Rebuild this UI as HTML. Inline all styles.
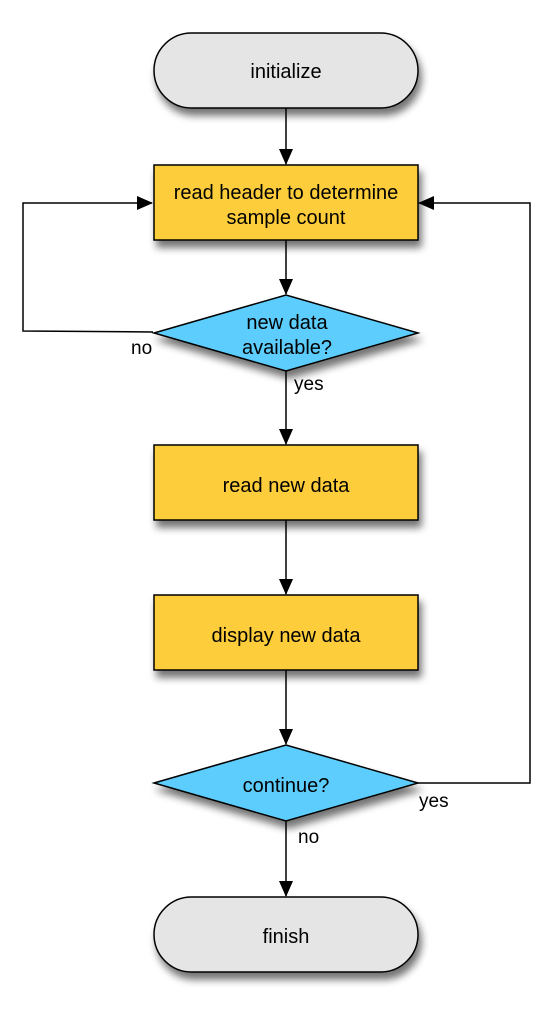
<!DOCTYPE html>
<html><head><style>body{margin:0;background:#fff}</style></head><body>
<svg width="553" height="1021" viewBox="0 0 553 1021" xmlns="http://www.w3.org/2000/svg" font-family="Liberation Sans, sans-serif" font-size="20">
<defs>
<filter id="sh" x="-20%" y="-30%" width="150%" height="180%"><feGaussianBlur in="SourceAlpha" stdDeviation="4"/><feOffset dx="3" dy="7"/><feComponentTransfer><feFuncA type="linear" slope="0.55"/></feComponentTransfer><feMerge><feMergeNode/><feMergeNode in="SourceGraphic"/></feMerge></filter>
<marker id="a" markerWidth="16" markerHeight="14" refX="15" refY="7" orient="auto" markerUnits="userSpaceOnUse"><path d="M0,0 L16,7 L0,14 z" fill="#000"/></marker>
</defs>
<g stroke="#000" stroke-width="1.5" fill="none">
<line x1="286" y1="108" x2="286" y2="164" marker-end="url(#a)"/>
<line x1="286" y1="240" x2="286" y2="294" marker-end="url(#a)"/>
<line x1="286" y1="371" x2="286" y2="444" marker-end="url(#a)"/>
<line x1="286" y1="520" x2="286" y2="594" marker-end="url(#a)"/>
<line x1="286" y1="670" x2="286" y2="744" marker-end="url(#a)"/>
<line x1="286" y1="821" x2="286" y2="896" marker-end="url(#a)"/>
<polyline points="153,332 23,331 23,203 152,203" marker-end="url(#a)"/>
<polyline points="418,783 530,783 530,203 419,203" marker-end="url(#a)"/>
</g>
<g stroke="#000" stroke-width="1.5" filter="url(#sh)">
<rect x="154" y="33" width="264" height="75" rx="37.5" fill="#e5e5e5"/>
<rect x="154" y="165" width="264" height="75" fill="#fdcd3a"/>
<polygon points="154,333 286,295 418,333 286,371" fill="#5bcdfc"/>
<rect x="154" y="445" width="264" height="75" fill="#fdcd3a"/>
<rect x="154" y="595" width="264" height="75" fill="#fdcd3a"/>
<polygon points="154,783 286,745 418,783 286,821" fill="#5bcdfc"/>
<rect x="154" y="897" width="264" height="75" rx="37.5" fill="#e5e5e5"/>
</g>
<g text-anchor="middle" fill="#000">
<text x="286" y="78">initialize</text>
<text x="286" y="199">read header to determine</text>
<text x="286" y="224">sample count</text>
<text x="287" y="329">new data</text>
<text x="287" y="354">available?</text>
<text x="286" y="492">read new data</text>
<text x="286" y="642">display new data</text>
<text x="286" y="792">continue?</text>
<text x="286" y="943">finish</text>
</g>
<g fill="#000" font-size="19">
<text x="131" y="354">no</text>
<text x="294" y="390">yes</text>
<text x="419" y="807">yes</text>
<text x="298" y="843">no</text>
</g>
</svg>
</body></html>
